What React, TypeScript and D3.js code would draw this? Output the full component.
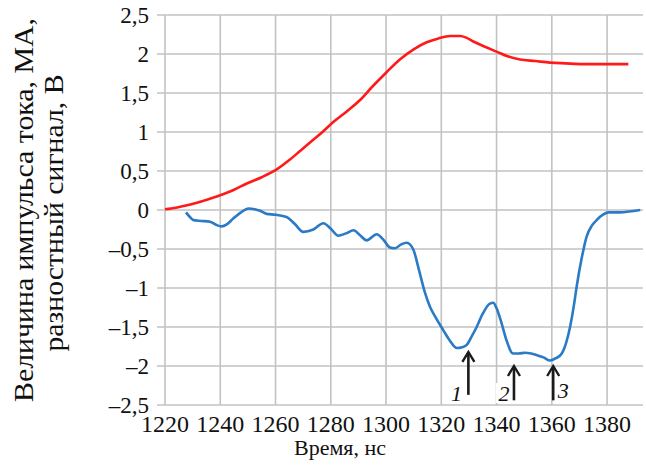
import * as d3 from "d3";

// time, ns
const redT = [1220, 1224, 1228, 1234, 1240, 1245, 1249.6, 1255, 1260, 1265, 1269, 1273, 1277, 1281, 1286, 1290.6, 1295, 1300, 1305, 1310, 1314.7, 1319, 1323.2, 1326.8, 1329, 1331.6, 1336, 1340, 1344, 1348.5, 1354, 1359.4, 1365, 1371.4, 1380, 1387.7];
// current pulse, MA
const redV = [0.01, 0.03, 0.06, 0.12, 0.19, 0.26, 0.34, 0.42, 0.51, 0.64, 0.76, 0.88, 1.0, 1.13, 1.27, 1.41, 1.58, 1.76, 1.93, 2.06, 2.15, 2.2, 2.23, 2.23, 2.21, 2.16, 2.09, 2.03, 1.97, 1.93, 1.91, 1.89, 1.88, 1.87, 1.87, 1.87];

const blueT = [1227.6, 1229, 1230.3, 1233, 1236.3, 1238.5, 1240.5, 1242.5, 1244.7, 1247.5, 1250.2, 1252.5, 1254.4, 1256.8, 1260, 1264, 1267, 1270, 1273.7, 1277.3, 1280, 1282.7, 1285.5, 1288.2, 1290.5, 1293, 1296.6, 1299, 1301.4, 1303.3, 1305.5, 1307.5, 1309.9, 1312, 1314, 1315.9, 1318, 1320.7, 1323, 1325.6, 1327.5, 1329.2, 1331, 1332.8, 1335, 1337.6, 1338.8, 1340, 1341.8, 1343.6, 1346, 1348, 1350.3, 1352.5, 1354.5, 1357, 1359.4, 1361.5, 1363.6, 1365.2, 1366.6, 1368, 1369, 1370.8, 1372.6, 1374.5, 1376.2, 1378.5, 1380.5, 1384.7, 1388, 1392];
// difference signal, V
const blueV = [-0.03, -0.09, -0.13, -0.14, -0.15, -0.19, -0.21, -0.18, -0.11, -0.03, 0.02, 0.01, -0.01, -0.05, -0.06, -0.09, -0.18, -0.28, -0.25, -0.17, -0.24, -0.33, -0.3, -0.26, -0.32, -0.39, -0.31, -0.38, -0.48, -0.49, -0.44, -0.42, -0.51, -0.78, -1.05, -1.24, -1.38, -1.54, -1.67, -1.77, -1.76, -1.73, -1.62, -1.5, -1.33, -1.2, -1.19, -1.26, -1.45, -1.67, -1.84, -1.84, -1.83, -1.84, -1.86, -1.89, -1.93, -1.9, -1.84, -1.7, -1.5, -1.22, -0.98, -0.62, -0.34, -0.2, -0.13, -0.06, -0.03, -0.03, -0.02, 0.0];

const xTicks = [1220, 1240, 1260, 1280, 1300, 1320, 1340, 1360, 1380];
const yTicks = [2.5, 2, 1.5, 1, 0.5, 0, -0.5, -1, -1.5, -2, -2.5];

// arrows: label, time, tip value, tail value
const arrowLabels = ["1", "2", "3"];
const arrowT = [1329.8, 1346.3, 1360.5];
const arrowTip = [-1.82, -2.0, -2.0];
const arrowTail = [-2.37, -2.44, -2.44];

const W = 646, H = 471;
const left = 165, right = 643, top = 15, bottom = 405;

const fmt = (v: number) => (v < 0 ? "\u2013" : "") + String(Math.abs(v)).replace(".", ",");

export default function App() {
  const x = d3.scaleLinear().domain([1220, 1393]).range([left, right]);
  const y = d3.scaleLinear().domain([-2.5, 2.5]).range([bottom, top]);
  const line = d3.line<[number, number]>().x(d => x(d[0])).y(d => y(d[1])).curve(d3.curveMonotoneX);
  const red = redT.map((t, i) => [t, redV[i]] as [number, number]);
  const blue = blueT.map((t, i) => [t, blueV[i]] as [number, number]);
  const ff = { fontFamily: "Liberation Serif" };
  const labelOffsets = [-12, -10, 10];

  return (
    <div style={{ position: "absolute", left: 0, top: 0 }}>
      <svg width={W} height={H} style={{ display: "block", background: "#fff" }}>
        <g stroke="#c2c2c2" strokeWidth={1.6}>
          {yTicks.map(v => (
            <line key={"h" + v} x1={left - 8} x2={right} y1={y(v)} y2={y(v)} />
          ))}
          {xTicks.map(t => (
            <line key={"v" + t} x1={x(t)} x2={x(t)} y1={top} y2={bottom} />
          ))}
        </g>
        {yTicks.map(v => (
          <text key={"yl" + v} x={149} y={y(v) + 8} textAnchor="end" fontSize={23} fill="#111" style={ff}>{fmt(v)}</text>
        ))}
        {xTicks.map(t => (
          <text key={"xl" + t} x={x(t)} y={432} textAnchor="middle" fontSize={24} fill="#111" style={ff}>{t}</text>
        ))}
        <text x={340} y={455} textAnchor="middle" fontSize={22} fill="#111" style={ff}>Время, нс</text>
        <g transform="translate(33,210) rotate(-90)" fill="#111">
          <text x={0} y={0} textAnchor="middle" fontSize={27} textLength={384} lengthAdjust="spacingAndGlyphs" style={ff}>Величина импульса тока, МА,</text>
          <text x={-3} y={30} textAnchor="middle" fontSize={27} textLength={277} lengthAdjust="spacingAndGlyphs" style={ff}>разностный сигнал, В</text>
        </g>
        <path d={line(red) || ""} fill="none" stroke="#ff1a1a" strokeWidth={2.6} />
        <path d={line(blue) || ""} fill="none" stroke="#2a7ac6" strokeWidth={2.6} />
        {arrowLabels.map((lab, i) => {
          const ax = x(arrowT[i]);
          const tip = y(arrowTip[i]);
          const tail = y(arrowTail[i]);
          const lx = ax + labelOffsets[i];
          return (
            <g key={"a" + lab}>
              {i < 2 && <rect x={lx - 8} y={383} width={16} height={20} fill="#fff" />}
              <line x1={ax} x2={ax} y1={tail} y2={tip + 1} stroke="#1a1a1a" strokeWidth={2.6} />
              <path d={`M${ax - 6},${tip + 10}L${ax},${tip}L${ax + 6},${tip + 10}`} fill="none" stroke="#1a1a1a" strokeWidth={2.4} />
              <text x={lx} y={i === 2 ? 398 : 401} textAnchor="middle" fontSize={22} fontStyle="italic" fill="#111" style={ff}>{lab}</text>
            </g>
          );
        })}
      </svg>
    </div>
  );
}
